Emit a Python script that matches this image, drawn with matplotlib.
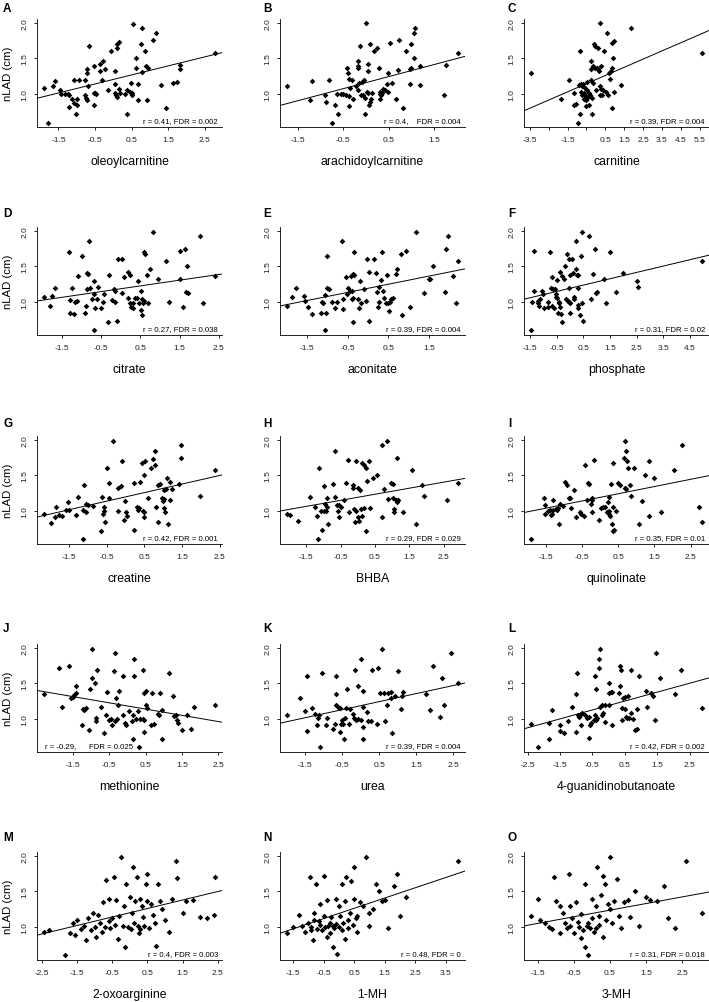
import numpy as np
import matplotlib
matplotlib.use("Agg")
import matplotlib.pyplot as plt

plt.rcParams['font.family'] = ['Liberation Sans', 'DejaVu Sans']

# values: (metabolite z-score, nLAD in cm) for each panel
oleoylcarnitine = [(-1.78,0.59),(-1.90,1.08),(-1.64,1.11),(-1.60,1.18),(-1.45,1.05),(-1.43,1.00),(-1.33,1.00),(-1.24,1.00),(-1.22,0.98),(-1.21,0.82),(-1.13,0.93),(-1.07,1.20),(-1.07,0.87),(-1.01,0.72),(-0.99,0.93),(-0.98,0.84),(-0.93,1.19),(-0.78,1.20),(-0.77,0.98),(-0.74,0.94),(-0.72,1.29),(-0.72,1.35),(-0.70,1.11),(-0.67,1.68),(-0.72,0.91),(-0.54,1.02),(-0.53,1.40),(-0.52,0.85),(-0.49,1.02),(-0.46,1.00),(-0.37,1.42),(-0.35,1.33),(-0.30,1.19),(-0.29,1.47),(-0.23,1.35),(-0.15,1.06),(-0.07,1.61),(0.04,1.33),(0.04,1.14),(0.06,1.02),(0.08,0.98),(0.09,0.95),(0.11,1.70),(0.11,1.65),(0.15,1.07),(0.17,1.73),(0.18,1.02),(0.31,1.00),(0.37,0.71),(0.38,1.05),(0.45,1.03),(0.49,1.15),(0.50,1.01),(0.52,0.98),(0.54,1.99),(0.61,1.50),(0.61,1.37),(0.69,1.14),(0.68,0.92),(0.77,1.71),(0.78,1.31),(0.80,1.93),(0.86,1.61),(0.91,1.40),(0.94,1.37),(0.92,0.91),(1.09,1.76),(1.18,1.86),(1.32,1.13),(1.44,0.80),(1.63,1.16),(1.74,1.17),(1.82,1.41),(1.83,1.35),(2.79,1.57)]

arachidoylcarnitine = [(-1.74,1.11),(-1.18,1.18),(-1.24,0.92),(-0.89,0.98),(-0.87,0.89),(-0.81,1.20),(-0.69,0.85),(-0.64,1.00),(-0.61,0.72),(-0.75,0.59),(-0.55,1.00),(-0.50,1.00),(-0.44,0.99),(-0.41,1.37),(-0.39,1.29),(-0.38,1.21),(-0.37,0.97),(-0.37,0.83),(-0.34,1.08),(-0.30,1.19),(-0.28,0.93),(-0.22,1.11),(-0.18,1.47),(-0.18,1.40),(-0.17,1.37),(-0.17,1.05),(-0.15,1.16),(-0.13,1.68),(-0.11,0.98),(-0.09,1.17),(-0.07,0.98),(-0.04,1.19),(-0.03,0.94),(-0.01,0.71),(0.00,2.00),(0.02,1.03),(0.04,1.01),(0.04,1.33),(0.05,1.42),(0.07,0.84),(0.10,1.70),(0.10,0.88),(0.11,0.93),(0.13,1.02),(0.18,1.61),(0.25,1.65),(0.28,1.37),(0.30,0.93),(0.30,1.03),(0.31,1.00),(0.34,0.98),(0.35,1.02),(0.37,1.07),(0.41,1.05),(0.46,1.14),(0.48,1.30),(0.48,1.03),(0.52,1.72),(0.58,1.16),(0.67,0.93),(0.70,1.34),(0.72,1.76),(0.81,0.80),(0.89,1.61),(0.96,1.14),(0.98,1.35),(0.99,1.70),(0.99,1.36),(1.05,1.50),(1.06,1.86),(1.07,1.93),(1.18,1.13),(1.20,1.39),(1.72,0.98),(1.76,1.41),(2.03,1.57)]

carnitine = [(-3.45,1.29),(-1.84,0.93),(-1.45,1.19),(-1.18,1.01),(-1.18,0.85),(-1.06,0.86),(-0.97,0.59),(-0.86,0.72),(-0.86,1.61),(-0.88,1.13),(-0.81,1.14),(-0.77,1.03),(-0.74,0.98),(-0.74,1.11),(-0.68,1.14),(-0.65,1.01),(-0.61,0.93),(-0.56,1.08),(-0.56,0.98),(-0.52,0.91),(-0.50,0.83),(-0.47,1.17),(-0.45,1.05),(-0.42,0.95),(-0.38,1.02),(-0.34,0.85),(-0.29,0.98),(-0.26,1.47),(-0.26,1.19),(-0.24,1.35),(-0.20,0.94),(-0.20,0.71),(-0.17,1.40),(-0.13,1.16),(-0.10,1.70),(-0.06,1.37),(-0.02,1.68),(0.01,1.05),(0.05,1.37),(0.10,1.35),(0.12,1.65),(0.15,1.33),(0.21,2.00),(0.23,1.11),(0.24,0.98),(0.28,1.07),(0.28,1.40),(0.33,0.98),(0.39,1.05),(0.44,1.61),(0.56,1.03),(0.60,1.86),(0.65,0.99),(0.69,1.30),(0.74,1.21),(0.78,1.33),(0.83,0.80),(0.87,1.37),(0.90,1.50),(0.87,1.72),(0.94,1.75),(0.96,1.03),(1.31,1.13),(1.87,1.93),(5.64,1.57)]

citrate = [(-1.97,1.07),(-1.82,0.94),(-1.76,1.08),(-1.69,1.19),(-1.33,1.71),(-1.30,1.03),(-1.29,0.85),(-1.24,1.20),(-1.20,0.83),(-1.18,1.00),(-1.13,1.01),(-1.10,1.37),(-0.99,1.65),(-0.93,0.84),(-0.90,0.94),(-0.87,1.18),(-0.86,1.41),(-0.83,1.40),(-0.81,1.86),(-0.79,1.19),(-0.75,1.04),(-0.70,1.11),(-0.69,1.29),(-0.69,0.61),(-0.66,0.92),(-0.60,1.04),(-0.58,1.21),(-0.50,0.91),(-0.47,1.00),(-0.43,1.11),(-0.32,0.71),(-0.30,1.38),(-0.22,1.03),(-0.17,1.18),(-0.16,1.16),(-0.15,1.00),(-0.09,0.73),(-0.07,1.61),(0.02,1.61),(0.04,1.13),(0.08,1.35),(0.17,1.05),(0.19,1.42),(0.23,1.38),(0.24,0.98),(0.27,0.93),(0.30,0.98),(0.32,0.92),(0.36,1.05),(0.41,1.06),(0.43,1.30),(0.47,0.98),(0.51,1.16),(0.51,0.88),(0.53,1.04),(0.54,0.81),(0.56,0.98),(0.58,1.01),(0.58,1.70),(0.62,1.67),(0.67,1.38),(0.70,0.99),(0.75,1.47),(0.81,1.99),(0.96,1.33),(1.16,1.57),(1.24,1.00),(1.50,1.72),(1.52,1.32),(1.58,0.93),(1.65,1.75),(1.67,1.14),(1.68,1.50),(1.71,1.12),(2.03,1.93),(2.10,0.98),(2.41,1.36)]

aconitate = [(-2.00,0.94),(-1.87,1.07),(-1.77,1.19),(-1.58,1.08),(-1.56,1.01),(-1.48,0.93),(-1.39,0.83),(-1.17,0.84),(-1.13,1.00),(-1.11,0.98),(-1.06,1.10),(-1.05,0.61),(-1.03,0.85),(-1.00,1.65),(-1.00,1.20),(-0.96,1.18),(-0.88,1.00),(-0.82,0.92),(-0.76,1.00),(-0.63,1.86),(-0.62,1.04),(-0.61,0.90),(-0.55,1.35),(-0.52,1.11),(-0.49,1.19),(-0.45,1.16),(-0.42,1.37),(-0.40,1.16),(-0.39,1.04),(-0.37,1.39),(-0.36,1.06),(-0.35,1.70),(-0.34,1.38),(-0.36,0.71),(-0.24,1.04),(-0.22,0.91),(-0.20,1.29),(-0.18,0.98),(-0.10,1.18),(-0.05,1.02),(-0.03,1.61),(0.03,0.73),(0.03,1.42),(0.14,1.61),(0.19,1.41),(0.23,1.14),(0.24,0.93),(0.26,1.21),(0.28,1.00),(0.33,1.31),(0.34,1.70),(0.38,1.16),(0.39,1.05),(0.44,0.98),(0.47,1.38),(0.48,0.98),(0.51,0.87),(0.54,1.00),(0.56,1.04),(0.61,1.06),(0.69,1.39),(0.71,1.47),(0.80,1.67),(0.83,0.81),(0.94,1.72),(1.04,0.93),(1.19,1.99),(1.39,1.13),(1.49,1.33),(1.52,1.32),(1.60,1.50),(1.90,1.14),(1.92,1.75),(1.98,1.93),(2.09,1.36),(2.16,0.98),(2.22,1.58)]

phosphate = [(-1.46,0.61),(-1.41,1.00),(-1.35,1.72),(-1.34,1.16),(-1.21,1.01),(-1.19,0.98),(-1.15,0.94),(-1.10,1.04),(-1.06,1.16),(-1.02,1.11),(-0.96,0.92),(-0.83,0.93),(-0.81,1.00),(-0.75,1.70),(-0.71,1.19),(-0.68,0.94),(-0.66,1.35),(-0.62,1.18),(-0.58,0.92),(-0.56,1.18),(-0.53,1.07),(-0.52,1.11),(-0.49,1.05),(-0.47,1.31),(-0.43,0.84),(-0.41,0.98),(-0.39,1.00),(-0.38,1.42),(-0.37,0.93),(-0.33,0.83),(-0.30,1.36),(-0.28,0.71),(-0.23,1.33),(-0.18,1.50),(-0.14,1.04),(-0.09,1.67),(-0.08,1.01),(-0.05,1.61),(-0.03,1.00),(-0.02,1.20),(0.01,0.98),(0.02,0.85),(0.02,1.38),(0.07,1.61),(0.11,1.41),(0.14,1.04),(0.17,1.07),(0.22,1.86),(0.24,1.47),(0.25,1.38),(0.30,1.38),(0.30,1.19),(0.30,0.92),(0.32,0.96),(0.39,0.81),(0.41,1.65),(0.47,1.99),(0.47,0.98),(0.51,0.73),(0.70,1.93),(0.80,1.04),(0.85,1.39),(0.95,1.75),(0.98,1.12),(1.02,1.14),(1.27,1.32),(1.36,0.98),(1.52,1.70),(1.71,1.14),(1.98,1.41),(2.50,1.29),(2.56,1.21),(4.95,1.58)]

creatine = [(-2.17,0.95),(-1.97,0.83),(-1.88,0.92),(-1.86,1.06),(-1.77,0.94),(-1.70,0.93),(-1.57,1.01),(-1.52,1.12),(-1.50,1.02),(-1.32,0.94),(-1.26,1.19),(-1.14,0.61),(-1.12,1.01),(-1.10,1.37),(-1.06,1.10),(-1.06,0.99),(-1.01,1.08),(-0.86,1.07),(-0.64,0.71),(-0.63,1.20),(-0.58,1.05),(-0.58,1.00),(-0.59,0.96),(-0.55,0.84),(-0.48,1.61),(-0.45,1.39),(-0.43,1.18),(-0.32,1.99),(-0.21,1.00),(-0.19,1.33),(-0.12,1.35),(-0.10,1.70),(-0.05,0.87),(-0.02,1.14),(0.02,0.98),(0.04,0.93),(0.23,0.73),(0.23,1.39),(0.30,1.05),(0.32,1.02),(0.35,1.04),(0.39,1.41),(0.44,1.67),(0.46,1.00),(0.48,1.51),(0.48,0.98),(0.50,0.92),(0.52,1.70),(0.59,1.18),(0.68,1.61),(0.74,1.73),(0.77,1.65),(0.77,1.85),(0.82,1.05),(0.86,0.85),(0.87,1.36),(0.92,1.38),(0.97,1.18),(0.99,1.14),(1.02,1.04),(1.03,1.17),(1.03,1.29),(1.05,0.98),(1.08,1.31),(1.10,1.47),(1.12,0.81),(1.17,1.41),(1.18,1.16),(1.23,1.31),(1.42,1.38),(1.46,1.75),(1.46,1.93),(1.97,1.21),(2.38,1.58)]

bhba = [(-2.06,0.95),(-1.98,0.94),(-1.73,0.86),(-1.40,1.19),(-1.24,1.06),(-1.18,0.93),(-1.16,0.61),(-1.13,1.61),(-1.08,1.00),(-1.05,0.73),(-0.99,1.35),(-0.99,1.00),(-0.96,1.10),(-0.91,1.00),(-0.88,1.18),(-0.88,1.06),(-0.86,0.82),(-0.72,1.38),(-0.65,1.19),(-0.65,1.85),(-0.59,1.08),(-0.56,1.00),(-0.55,1.09),(-0.53,0.91),(-0.50,1.05),(-0.40,1.15),(-0.35,1.39),(-0.27,1.72),(-0.25,0.98),(-0.15,1.36),(-0.13,1.33),(-0.10,1.03),(-0.09,0.84),(-0.06,1.70),(-0.04,1.00),(0.00,1.33),(0.02,0.92),(0.04,0.86),(0.06,1.30),(0.11,1.03),(0.12,0.93),(0.13,1.68),(0.19,1.65),(0.19,1.04),(0.24,1.61),(0.25,0.72),(0.28,1.42),(0.33,1.70),(0.36,1.04),(0.43,1.46),(0.55,1.50),(0.70,0.92),(0.75,1.31),(0.70,1.93),(0.84,1.99),(0.87,1.17),(0.97,1.39),(1.02,1.38),(1.03,1.18),(1.06,1.03),(1.06,0.98),(1.10,1.16),(1.14,1.13),(1.15,1.75),(1.17,1.15),(1.31,0.98),(1.57,1.58),(1.70,0.81),(1.87,1.36),(1.92,1.21),(2.61,1.16),(2.92,1.40)]

quinolinate = [(-1.91,0.61),(-1.56,1.18),(-1.52,1.08),(-1.52,0.95),(-1.44,1.00),(-1.38,1.01),(-1.35,0.94),(-1.33,0.95),(-1.29,1.16),(-1.29,1.01),(-1.22,1.03),(-1.19,1.01),(-1.17,1.04),(-1.13,0.82),(-1.10,1.10),(-1.01,1.07),(-0.96,1.41),(-0.92,1.36),(-0.87,1.18),(-0.82,1.18),(-0.80,1.04),(-0.71,1.29),(-0.67,0.91),(-0.55,0.99),(-0.52,0.96),(-0.45,0.93),(-0.41,1.65),(-0.36,1.15),(-0.34,1.40),(-0.30,1.38),(-0.24,1.10),(-0.22,1.18),(-0.22,0.99),(-0.21,1.15),(-0.16,1.72),(-0.02,0.87),(0.02,1.04),(0.08,1.06),(0.14,1.05),(0.19,0.98),(0.22,0.99),(0.22,1.13),(0.24,1.20),(0.24,0.96),(0.26,1.00),(0.28,0.93),(0.31,1.38),(0.33,0.82),(0.35,0.72),(0.37,1.05),(0.37,1.67),(0.39,0.73),(0.45,1.00),(0.49,1.39),(0.55,1.36),(0.67,1.75),(0.70,1.99),(0.70,1.33),(0.72,1.85),(0.73,1.31),(0.75,1.70),(0.77,1.61),(0.82,1.36),(0.86,1.21),(0.93,1.61),(1.07,0.81),(1.16,1.14),(1.23,1.50),(1.35,0.93),(1.35,1.70),(1.48,1.47),(1.69,0.98),(2.04,1.58),(2.27,1.93),(2.73,1.05),(2.82,0.85)]

methionine = [(-2.29,1.35),(-1.87,1.72),(-1.78,1.17),(-1.59,1.75),(-1.55,1.29),(-1.50,1.31),(-1.46,1.34),(-1.42,1.46),(-1.41,1.37),(-1.25,0.91),(-1.22,1.14),(-1.18,1.12),(-1.13,1.16),(-1.04,0.84),(-1.02,1.42),(-0.97,1.99),(-0.97,1.57),(-0.88,1.50),(-0.85,1.02),(-0.85,0.97),(-0.84,1.69),(-0.72,1.17),(-0.65,0.80),(-0.59,1.05),(-0.56,1.38),(-0.51,0.98),(-0.45,1.00),(-0.42,0.92),(-0.36,1.68),(-0.33,1.93),(-0.33,0.97),(-0.30,1.30),(-0.28,1.00),(-0.26,1.20),(-0.22,1.39),(-0.13,1.60),(-0.12,1.05),(-0.05,0.94),(-0.03,0.92),(0.04,1.11),(0.13,0.97),(0.15,0.72),(0.16,1.05),(0.18,1.60),(0.18,1.85),(0.25,1.00),(0.29,1.11),(0.32,0.61),(0.36,1.00),(0.44,1.00),(0.44,1.69),(0.47,0.82),(0.45,1.37),(0.50,1.19),(0.52,1.39),(0.55,1.16),(0.47,0.98),(0.66,0.91),(0.68,1.36),(0.73,0.93),(0.85,1.07),(0.87,1.05),(0.89,1.36),(0.94,1.13),(0.94,0.71),(1.15,1.65),(1.26,1.32),(1.28,1.04),(1.33,1.06),(1.36,0.99),(1.38,0.94),(1.51,0.85),(1.63,1.05),(1.74,0.86),(1.84,1.17),(2.41,1.19)]

urea = [(-2.00,1.05),(-1.65,1.29),(-1.52,1.11),(-1.45,1.60),(-1.45,0.83),(-1.32,1.16),(-1.25,1.07),(-1.18,0.91),(-1.15,1.01),(-1.14,1.05),(-1.09,0.60),(-1.06,1.65),(-0.95,0.91),(-0.90,1.02),(-0.75,0.86),(-0.70,0.93),(-0.68,1.60),(-0.68,1.35),(-0.68,1.19),(-0.61,1.17),(-0.55,1.16),(-0.55,0.82),(-0.52,0.93),(-0.50,0.99),(-0.48,0.93),(-0.45,0.71),(-0.43,1.02),(-0.39,1.16),(-0.36,1.42),(-0.32,0.93),(-0.30,1.14),(-0.21,1.07),(-0.18,1.02),(-0.15,1.69),(-0.14,0.99),(-0.08,1.46),(-0.06,1.00),(0.00,1.85),(0.02,0.99),(0.05,1.17),(0.05,0.89),(0.05,0.72),(0.06,1.40),(0.18,1.10),(0.20,0.97),(0.27,0.97),(0.30,1.69),(0.43,0.93),(0.48,1.72),(0.53,1.37),(0.59,1.99),(0.64,1.36),(0.66,0.97),(0.71,1.19),(0.73,1.37),(0.82,1.38),(0.82,1.30),(0.85,0.80),(0.94,1.32),(1.00,1.68),(1.09,1.14),(1.12,1.32),(1.14,1.38),(1.77,1.35),(1.89,1.12),(1.95,1.74),(2.15,1.03),(2.20,1.57),(2.27,1.20),(2.44,1.93),(2.64,1.50)]

guanidinobutanoate = [(-2.40,0.93),(-2.19,0.60),(-1.84,0.94),(-1.84,0.71),(-1.76,1.13),(-1.50,0.83),(-1.50,0.92),(-1.39,0.80),(-1.26,0.97),(-1.12,1.17),(-1.01,1.35),(-1.01,0.81),(-0.97,1.65),(-0.95,1.05),(-0.91,1.03),(-0.85,1.07),(-0.85,0.92),(-0.83,1.08),(-0.74,1.05),(-0.67,1.01),(-0.60,0.73),(-0.60,1.03),(-0.57,0.91),(-0.54,0.94),(-0.46,0.98),(-0.43,1.60),(-0.41,1.05),(-0.39,1.42),(-0.39,0.98),(-0.36,1.02),(-0.31,1.85),(-0.29,1.72),(-0.26,1.99),(-0.26,1.17),(-0.21,1.20),(-0.19,1.05),(-0.16,1.09),(-0.12,0.96),(-0.10,1.19),(0.00,1.19),(0.02,1.50),(0.02,1.37),(0.08,1.38),(0.10,0.91),(0.10,1.38),(0.33,1.37),(0.36,1.46),(0.36,1.75),(0.38,1.69),(0.41,1.16),(0.43,0.99),(0.46,1.29),(0.50,1.14),(0.52,1.31),(0.54,1.03),(0.57,1.01),(0.60,1.32),(0.64,1.02),(0.70,1.69),(0.70,1.09),(0.75,1.00),(0.81,0.85),(0.88,1.14),(0.88,0.86),(0.95,1.60),(1.16,1.40),(1.19,1.17),(1.31,1.36),(1.36,1.32),(1.44,0.99),(1.48,1.93),(1.60,1.57),(2.05,1.35),(2.25,1.69),(2.89,1.16)]

oxoarginine = [(-2.44,0.93),(-2.30,0.95),(-1.85,0.60),(-1.70,0.92),(-1.60,1.05),(-1.55,0.88),(-1.50,1.10),(-1.40,0.97),(-1.30,1.02),(-1.25,0.82),(-1.20,1.13),(-1.10,0.95),(-1.05,1.20),(-1.00,1.00),(-0.95,0.86),(-0.90,1.17),(-0.85,1.05),(-0.80,0.93),(-0.75,1.35),(-0.70,1.00),(-0.68,1.66),(-0.60,1.08),(-0.55,0.98),(-0.50,1.12),(-0.45,1.70),(-0.42,1.03),(-0.40,1.38),(-0.35,0.83),(-0.30,1.16),(-0.25,1.99),(-0.20,1.02),(-0.18,1.30),(-0.15,0.72),(-0.10,1.60),(-0.05,1.00),(0.00,1.42),(0.02,0.97),(0.05,1.19),(0.10,1.85),(0.12,1.05),(0.15,1.37),(0.20,1.70),(0.22,1.01),(0.25,0.92),(0.30,1.40),(0.35,1.29),(0.38,1.14),(0.40,1.02),(0.45,1.60),(0.48,1.75),(0.50,1.37),(0.55,0.99),(0.60,1.33),(0.65,1.17),(0.70,1.05),(0.75,0.73),(0.80,1.61),(0.85,1.36),(0.90,1.25),(1.00,1.10),(1.10,0.93),(1.20,1.39),(1.30,1.93),(1.35,1.69),(1.50,1.20),(1.60,1.37),(1.80,1.38),(2.00,1.14),(2.20,1.12),(2.42,1.70),(2.40,1.17),(0.30,0.97),(-0.60,1.40)]

mh1 = [(-1.70,0.92),(-1.50,1.00),(-1.30,1.17),(-1.20,1.02),(-1.10,0.93),(-1.00,1.05),(-0.95,1.70),(-0.90,1.00),(-0.85,0.82),(-0.80,1.20),(-0.80,1.10),(-0.75,1.60),(-0.70,0.97),(-0.65,1.08),(-0.60,1.03),(-0.60,1.33),(-0.55,0.95),(-0.50,1.72),(-0.50,1.15),(-0.45,1.00),(-0.40,0.86),(-0.40,1.38),(-0.35,1.01),(-0.30,1.06),(-0.30,0.92),(-0.25,1.14),(-0.20,1.02),(-0.20,0.71),(-0.15,0.98),(-0.10,1.40),(-0.10,1.04),(-0.05,0.62),(0.00,1.00),(0.00,1.30),(0.05,1.16),(0.10,0.96),(0.10,1.60),(0.15,1.05),(0.20,0.83),(0.20,1.37),(0.25,1.70),(0.30,1.10),(0.30,0.99),(0.35,1.19),(0.40,1.65),(0.45,1.03),(0.50,1.40),(0.50,1.85),(0.55,1.13),(0.60,0.93),(0.70,1.35),(0.80,1.30),(0.90,1.99),(1.00,1.02),(1.00,1.20),(1.10,1.25),(1.20,1.60),(1.30,1.50),(1.40,1.37),(1.50,1.38),(1.60,0.98),(1.80,1.57),(1.90,1.75),(2.00,1.15),(2.20,1.42),(3.90,1.93),(0.60,1.16),(-0.90,0.95)]

mh3 = [(-1.70,1.15),(-1.50,1.40),(-1.45,1.10),(-1.30,1.05),(-1.20,1.00),(-1.10,0.97),(-1.05,1.70),(-1.00,1.37),(-0.90,1.30),(-0.90,0.92),(-0.80,1.20),(-0.75,1.05),(-0.70,0.99),(-0.65,1.75),(-0.60,1.02),(-0.55,1.12),(-0.50,0.91),(-0.45,1.35),(-0.40,1.07),(-0.35,1.00),(-0.30,0.84),(-0.30,1.18),(-0.25,0.95),(-0.20,1.61),(-0.20,0.72),(-0.15,1.02),(-0.10,1.05),(-0.10,0.61),(-0.05,0.98),(0.00,1.40),(0.00,1.12),(0.05,0.93),(0.10,1.30),(0.10,0.99),(0.15,1.85),(0.20,1.03),(0.20,1.16),(0.30,1.72),(0.30,0.86),(0.35,1.60),(0.40,1.10),(0.45,1.33),(0.50,1.99),(0.50,1.25),(0.55,1.05),(0.60,1.37),(0.70,1.67),(0.75,1.15),(0.80,0.98),(0.90,1.35),(1.00,1.38),(1.05,1.14),(1.20,1.50),(1.30,1.02),(1.50,1.42),(1.60,1.38),(1.80,1.37),(2.00,1.57),(2.10,1.13),(2.30,0.98),(2.60,1.93),(3.06,1.20),(0.25,1.45),(-0.60,1.29)]

# regression lines as drawn (slope, intercept)
fit_slope = [0.127, 0.170, 0.1153, 0.0803, 0.1147, 0.0897, 0.1207, 0.0855, 0.1018, -0.0882, 0.1131, 0.1255, 0.120, 0.145, 0.093]
fit_icpt = [1.204, 1.159, 1.202, 1.186, 1.192, 1.192, 1.198, 1.192, 1.191, 1.183, 1.187, 1.189, 1.200, 1.190, 1.190]

letters = list("ABCDEFGHIJKLMNO")
names = ["oleoylcarnitine", "arachidoylcarnitine", "carnitine", "citrate", "aconitate", "phosphate",
         "creatine", "BHBA", "quinolinate", "methionine", "urea", "4-guanidinobutanoate",
         "2-oxoarginine", "1-MH", "3-MH"]
stats = ["r = 0.41, FDR = 0.002", "r = 0.4,    FDR = 0.004", "r = 0.39, FDR = 0.004",
         "r = 0.27, FDR = 0.038", "r = 0.39, FDR = 0.004", "r = 0.31, FDR = 0.02",
         "r = 0.42, FDR = 0.001", "r = 0.29, FDR = 0.029", "r = 0.35, FDR = 0.01",
         "r = -0.29,      FDR = 0.025", "r = 0.39, FDR = 0.004", "r = 0.42, FDR = 0.002",
         "r = 0.4, FDR = 0.003", "r = 0.48, FDR = 0", "r = 0.31, FDR = 0.018"]
x_ticks = [[-1.5, -0.5, 0.5, 1.5, 2.5], [-1.5, -0.5, 0.5, 1.5], [-3.5, -2.5, -1.5, -0.5, 0.5, 1.5, 2.5, 3.5, 4.5, 5.5],
           [-1.5, -0.5, 0.5, 1.5, 2.5], [-1.5, -0.5, 0.5, 1.5], [-1.5, -0.5, 0.5, 1.5, 2.5, 3.5, 4.5],
           [-1.5, -0.5, 0.5, 1.5, 2.5], [-1.5, -0.5, 0.5, 1.5, 2.5], [-1.5, -0.5, 0.5, 1.5, 2.5],
           [-1.5, -0.5, 0.5, 1.5, 2.5], [-1.5, -0.5, 0.5, 1.5, 2.5], [-2.5, -1.5, -0.5, 0.5, 1.5, 2.5],
           [-2.5, -1.5, -0.5, 0.5, 1.5, 2.5], [-1.5, -0.5, 0.5, 1.5, 2.5, 3.5], [-1.5, -0.5, 0.5, 1.5, 2.5]]
hidden_labels = {2: [-2.5, -0.5]}  # R drops overlapping labels on the carnitine axis
y_ticks = [1.0, 1.5, 2.0]

panels = [oleoylcarnitine, arachidoylcarnitine, carnitine, citrate, aconitate, phosphate,
          creatine, bhba, quinolinate, methionine, urea, guanidinobutanoate,
          oxoarginine, mh1, mh3]

W, H = 709, 1003
fig = plt.figure(figsize=(W / 100, H / 100), dpi=100)

col_left = [37, 280, 524]
row_top = [20, 228, 437, 645, 853]
letter_x = [3, 263, 508]
letter_base = [12, 217, 427, 632, 841]
ax_w, ax_h = 185, 108

all_y = np.concatenate([np.array(p)[:, 1] for p in panels])
ylo, yhi = all_y.min(), all_y.max()
ypad = 0.04 * (yhi - ylo)

for i, pts in enumerate(panels):
    r, c = divmod(i, 3)
    ax = fig.add_axes([col_left[c] / W, 1 - (row_top[r] + ax_h) / H, ax_w / W, ax_h / H])
    xs, ys = np.array(pts).T
    ax.plot(xs, ys, linestyle='none', marker='D', ms=2.9, color='black', mec='none')
    ax.axline((0, fit_icpt[i]), slope=fit_slope[i], color='black', lw=0.7)

    xpad = 0.04 * (xs.max() - xs.min())
    ax.set_xlim(xs.min() - xpad, xs.max() + xpad)
    ax.set_ylim(ylo - ypad, yhi + ypad)

    ticks = x_ticks[i]
    labs = ["" if t in hidden_labels.get(i, []) else f"{t:g}" for t in ticks]
    ax.set_xticks(ticks, labs)
    ax.set_yticks(y_ticks, [f"{t:.1f}" for t in y_ticks])
    for lab in ax.get_yticklabels():
        lab.set_rotation(90)
        lab.set_va('center')
    ax.tick_params(length=2.2, width=0.6, labelsize=6, pad=4.0, colors='black')
    ax.tick_params(labelcolor='#222222')

    for s in ['top', 'right']:
        ax.spines[s].set_visible(False)
    for s in ['left', 'bottom']:
        ax.spines[s].set_linewidth(0.6)

    if i == 9:
        ax.text(0.043, 0.045, stats[i], transform=ax.transAxes, fontsize=5.6, ha='left', va='baseline')
    else:
        ax.text(0.978, 0.045, stats[i], transform=ax.transAxes, fontsize=5.6, ha='right', va='baseline')

    ax.text(0.5, -34 / ax_h, names[i], transform=ax.transAxes, fontsize=8.8, ha='center', va='center')
    if c == 0:
        ax.text(-29 / ax_w, 0.5, "nLAD (cm)", transform=ax.transAxes, fontsize=8.2, rotation=90,
                ha='center', va='center')

    fig.text(letter_x[c] / W, 1 - letter_base[r] / H, letters[i], fontsize=8.5, fontweight='bold',
             ha='left', va='baseline')

fig.savefig("out.png", dpi=100)
